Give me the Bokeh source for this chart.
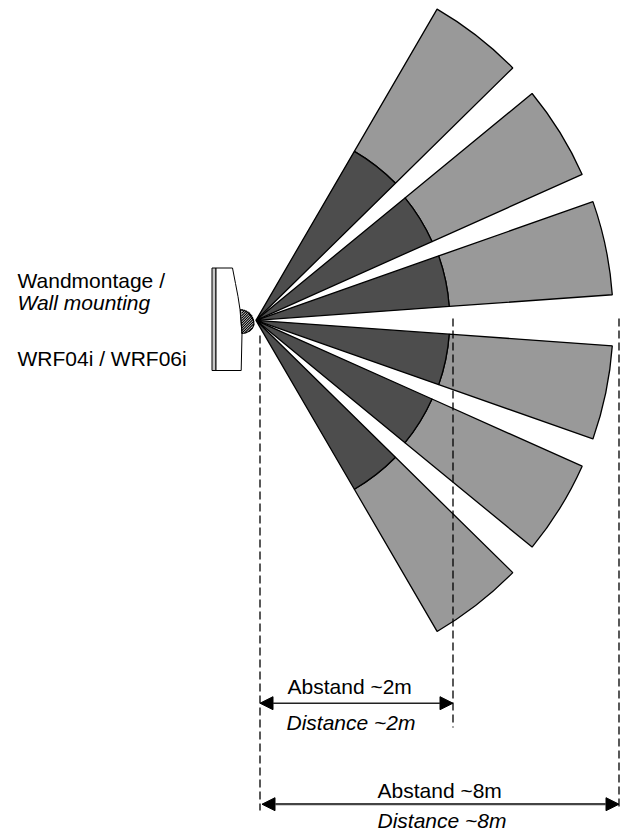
import numpy as np
from bokeh.plotting import figure
from bokeh.embed import file_html
from bokeh.resources import INLINE
from bokeh.models import Arrow, NormalHead, Range1d
from bokeh.core.properties import value

WIN_W, WIN_H = 621, 831

# sensor origin, in reference pixels
apex_x = 255.5
apex_y = 319.8

# detection zones: angular limits (degrees) and radii (pixels in the reference)
zone_start = [44.5, 24.1, 4.1, -19.4, -39.4, -59.8]
zone_end = [59.8, 39.4, 19.4, -4.1, -24.1, -44.5]
near_radius = [195.5, 192.8, 193.7, 193.7, 192.8, 195.5]
far_radius = [360, 357.3, 357.2, 357.2, 357.3, 360]

# dashed reference lines: x, top, bottom
guide_x = [259.5, 452.5, 618.5]
guide_top = [335, 318, 318]
guide_bottom = [810, 727, 808]

# dimension arrows
dim_y = [702.7, 803.7]
dim_x0 = [259.5, 261.5]
dim_x1 = [452.5, 618.5]
dim_width = [1.4, 2.2]
dim_color = ["#222222", "#444444"]

# labels
labels = [
    ("Wandmontage /", 17, 286.7, "normal"),
    ("Wall mounting", 17, 309.3, "italic"),
    ("WRF04i / WRF06i", 17, 365.3, "normal"),
    ("Abstand ~2m", 287, 692.7, "normal"),
    ("Distance ~2m", 286, 729, "italic"),
    ("Abstand ~8m", 377, 796.7, "normal"),
    ("Distance ~8m", 377, 826.7, "italic"),
]

# wall unit outline
plate_x = [211.5, 215.5, 215.5, 211.5]
plate_y = [267.5, 267.5, 370, 370]
body_x = [215.5, 232, 235, 237.5, 239.5, 241.5, 240.7, 215.5]
body_y = [267.5, 267.5, 283, 296, 309, 333, 370, 370]
dome_x = [240, 244, 248, 251, 253, 253.5, 252, 249, 245, 241.5]
dome_y = [309, 310, 312.5, 316, 320, 324, 327.5, 330.5, 332.5, 333]

p = figure(width=WIN_W, height=WIN_H, output_backend="svg", toolbar_location=None,
           x_range=Range1d(0, WIN_W), y_range=Range1d(-WIN_H, 0),
           min_border=0, outline_line_color=None)
p.axis.visible = False
p.grid.visible = False

def Y(v):
    return [-a for a in v]

p.annular_wedge([apex_x] * 6, [-apex_y] * 6, near_radius, far_radius, zone_start, zone_end,
                start_angle_units="deg", end_angle_units="deg",
                fill_color="#999999", line_color="black", line_width=1.3)
p.wedge([apex_x] * 6, [-apex_y] * 6, near_radius, zone_start, zone_end,
        start_angle_units="deg", end_angle_units="deg",
        fill_color="#4d4d4d", line_color="black", line_width=1.3)

p.segment(guide_x, Y(guide_top), guide_x, Y(guide_bottom), line_color="black",
          line_width=1.3, line_dash="8 4")

for y, x0, x1, w, c in zip(dim_y, dim_x0, dim_x1, dim_width, dim_color):
    p.add_layout(Arrow(x_start=x0, y_start=-y, x_end=x1, y_end=-y,
                       line_color=c, line_width=w,
                       start=NormalHead(size=13, fill_color="black", line_color="black", line_width=1),
                       end=NormalHead(size=13, fill_color="black", line_color="black", line_width=1)))

p.patch(plate_x, Y(plate_y), fill_color="#c8c8c8", line_color="black", line_width=1)
p.patch(body_x, Y(body_y), fill_color="white", line_color="black", line_width=1)
p.patch(dome_x, Y(dome_y), fill_color="white", line_color="black", line_width=1.2)

# hatch of the sensor dome: "/" strokes clipped to the dome's half ellipse
dome_cx, dome_cy, dome_a, dome_b = 241.0, 321.0, 12.5, 12.0
hx, hy = [], []
for c in np.arange(-18, 18, 2.5):
    t = np.linspace(-20, 20, 400)
    px = dome_cx + t
    py = dome_cy - t + c
    inside = (((px - dome_cx) / dome_a) ** 2 + ((py - dome_cy) / dome_b) ** 2 < 1) & (px > dome_cx)
    if inside.any():
        hx.append(list(px[inside]))
        hy.append([-v for v in py[inside]])
p.multi_line(hx, hy, line_color="black", line_width=1.2)

for t, x, y, st in labels:
    p.text([x], [-y], text=[t], text_font=value("Liberation Sans"), text_font_size="21px",
           text_font_style=st, text_color="black", text_baseline="alphabetic", text_align="left",
           y_offset=-7)

open("out.html", "w").write(file_html(p, INLINE))
